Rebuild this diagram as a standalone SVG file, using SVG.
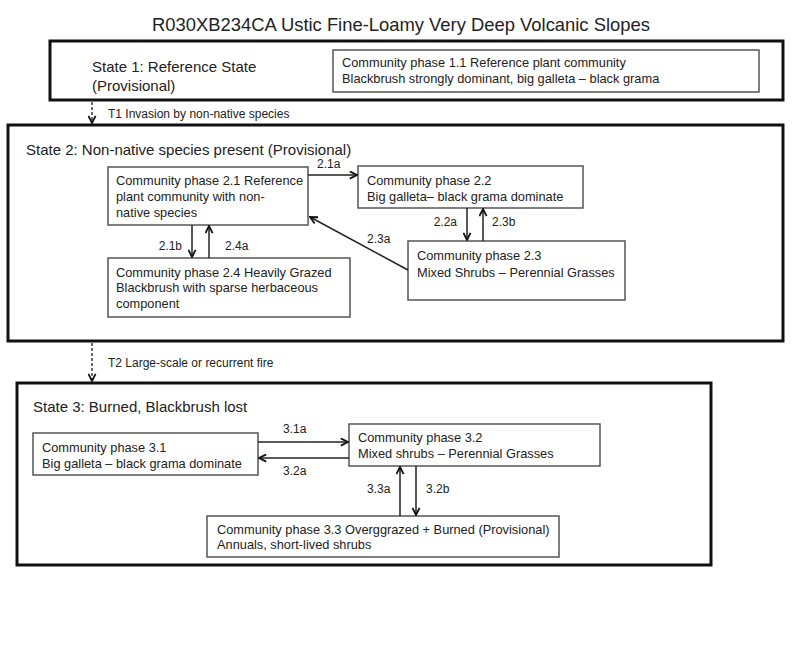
<svg xmlns="http://www.w3.org/2000/svg" width="800" height="649" viewBox="0 0 800 649">
<defs>
<style>
text{font-family:"Liberation Sans",Arial,sans-serif;fill:#222}
.title{font-size:18.4px}
.st{font-size:15px}
.t{font-size:12.8px}
.lbl{font-size:12px}
.state{fill:#fff;stroke:#111;stroke-width:3}
.box{fill:#fff;stroke:#555;stroke-width:1.5}
.c{stroke:#222;stroke-width:1.5;fill:none}
.d{stroke:#222;stroke-width:1.3;fill:none;stroke-dasharray:3,2}
</style>
<marker id="ah" viewBox="0 0 10 10" refX="9" refY="5" markerWidth="9" markerHeight="9" markerUnits="userSpaceOnUse" orient="auto">
<path d="M1,1 L9,5 L1,9" fill="none" stroke="#111" stroke-width="2"/>
</marker>
</defs>
<rect width="800" height="649" fill="#fff"/>
<text class="title" x="401" y="31" text-anchor="middle">R030XB234CA Ustic Fine-Loamy Very Deep Volcanic Slopes</text>

<g id="state1">
<rect class="state" x="50" y="41" width="733" height="59"/>
<text class="st" x="92" y="72">State 1: Reference State</text>
<text class="st" x="92" y="91">(Provisional)</text>
</g>
<g id="cp11">
<rect class="box" x="333" y="50" width="426" height="42"/>
<text class="t" x="342" y="67">Community phase 1.1 Reference plant community</text>
<text class="t" x="342" y="83">Blackbrush strongly dominant, big galleta – black grama</text>
</g>

<g id="state2">
<rect class="state" x="8" y="125" width="775" height="216"/>
<text class="st" x="26" y="155">State 2: Non-native species present (Provisional)</text>
</g>
<g id="cp21">
<rect class="box" x="108" y="167" width="200" height="58"/>
<text class="t" x="116" y="185">Community phase 2.1 Reference</text>
<text class="t" x="116" y="201">plant community with non-</text>
<text class="t" x="116" y="217">native species</text>
</g>
<g id="cp22">
<rect class="box" x="358" y="166" width="225" height="42"/>
<text class="t" x="367" y="185">Community phase 2.2</text>
<text class="t" x="367" y="201">Big galleta– black grama dominate</text>
</g>
<g id="cp23">
<rect class="box" x="408" y="241" width="217" height="59"/>
<text class="t" x="417" y="260">Community phase 2.3</text>
<text class="t" x="417" y="277">Mixed Shrubs – Perennial Grasses</text>
</g>
<g id="cp24">
<rect class="box" x="108" y="258" width="242" height="59"/>
<text class="t" x="116" y="277">Community phase 2.4 Heavily Grazed</text>
<text class="t" x="116" y="292">Blackbrush with sparse herbaceous</text>
<text class="t" x="116" y="308">component</text>
</g>

<g id="state3">
<rect class="state" x="17" y="383" width="694" height="182"/>
<text class="st" x="33" y="412">State 3: Burned, Blackbrush lost</text>
</g>
<g id="cp31">
<rect class="box" x="33" y="433" width="225" height="42"/>
<text class="t" x="42" y="452">Community phase 3.1</text>
<text class="t" x="42" y="468">Big galleta – black grama dominate</text>
</g>
<g id="cp32">
<rect class="box" x="349" y="424" width="251" height="42"/>
<text class="t" x="358" y="442">Community phase 3.2</text>
<text class="t" x="358" y="458">Mixed shrubs – Perennial Grasses</text>
</g>
<g id="cp33">
<rect class="box" x="207" y="516" width="352" height="41"/>
<text class="t" x="217" y="534">Community phase 3.3 Overggrazed + Burned (Provisional)</text>
<text class="t" x="217" y="549">Annuals, short-lived shrubs</text>
</g>

<g id="connectors">
<line class="d" x1="92" y1="102" x2="92" y2="123" marker-end="url(#ah)"/>
<text class="lbl" x="108" y="118">T1 Invasion by non-native species</text>
<line class="d" x1="92" y1="343" x2="92" y2="381" marker-end="url(#ah)"/>
<text class="lbl" x="108" y="367">T2  Large-scale or recurrent fire</text>

<line class="c" x1="308" y1="175" x2="357" y2="175" marker-end="url(#ah)"/>
<text class="lbl" x="317" y="168">2.1a</text>
<line class="c" x1="192" y1="225" x2="192" y2="257" marker-end="url(#ah)"/>
<text class="lbl" x="182" y="250" text-anchor="end">2.1b</text>
<line class="c" x1="209" y1="258" x2="209" y2="226" marker-end="url(#ah)"/>
<text class="lbl" x="225" y="250">2.4a</text>
<line class="c" x1="467" y1="208" x2="467" y2="240" marker-end="url(#ah)"/>
<text class="lbl" x="457" y="226" text-anchor="end">2.2a</text>
<line class="c" x1="483" y1="241" x2="483" y2="209" marker-end="url(#ah)"/>
<text class="lbl" x="492" y="226">2.3b</text>
<line class="c" x1="408" y1="270" x2="310" y2="217" marker-end="url(#ah)"/>
<text class="lbl" x="367" y="243">2.3a</text>

<line class="c" x1="258" y1="442" x2="348" y2="442" marker-end="url(#ah)"/>
<text class="lbl" x="283" y="433">3.1a</text>
<line class="c" x1="349" y1="458" x2="259" y2="458" marker-end="url(#ah)"/>
<text class="lbl" x="283" y="475">3.2a</text>
<line class="c" x1="400" y1="516" x2="400" y2="467" marker-end="url(#ah)"/>
<text class="lbl" x="367" y="493">3.3a</text>
<line class="c" x1="416" y1="466" x2="416" y2="515" marker-end="url(#ah)"/>
<text class="lbl" x="426" y="493">3.2b</text>
</g>
</svg>
